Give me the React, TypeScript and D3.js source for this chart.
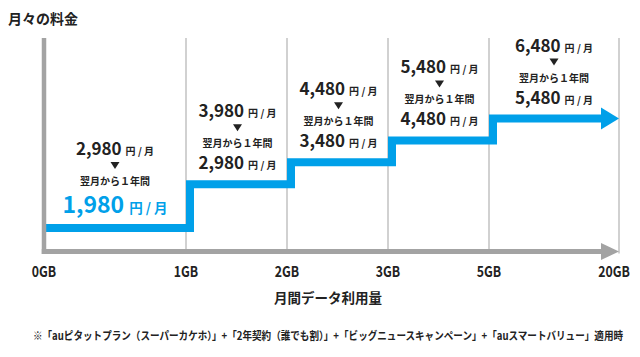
import React, { useLayoutEffect, useRef, useState } from "react";
import * as d3 from "d3";

const gbTicks = ["0GB", "1GB", "2GB", "3GB", "5GB", "20GB"];
const regularPrices = [2980, 3980, 4480, 5480, 6480];
const discountPrices = [1980, 2980, 3480, 4480, 5480];
const titleText = "月々の料金";
const axisTitle = "月間データ利用量";
const periodText = "翌月から１年間";
const unitText = "円 / 月";
const footnote =
  "※「auピタットプラン（スーパーカケホ）」+「2年契約（誰でも割）」+「ビッグニュースキャンペーン」+「auスマートバリュー」適用時";

const W = 640;
const H = 357;
const FONT = "'Noto Sans CJK JP', 'Noto Sans', sans-serif";
const BLUE = "#00a0e9";
const GRAY = "#a3a3a3";
const GRID = "#b9b9b9";

// horizontal layout: first band wider, last band wide
const bandWidths = [142, 101, 101, 101, 130];
const xRange = bandWidths.reduce((acc, w) => [...acc, acc[acc.length - 1] + w], [44]);
const x = d3.scaleLinear().domain(d3.range(gbTicks.length)).range(xRange);

// vertical: step tiers (first step is double height)
const tierOf = (i: number) => (i === 0 ? 0 : i + 1);
const y = d3.scaleLinear().domain([0, 5]).range([228, 118.5]);
const fmt = d3.format(",");

const axisY = 251.5;
const topY = 38;

export default function App() {
  const noteRef = useRef<SVGTextElement | null>(null);
  const [noteScale, setNoteScale] = useState(0.85);
  useLayoutEffect(() => {
    if (noteRef.current) {
      const len = noteRef.current.getComputedTextLength();
      if (len > 0) setNoteScale(590 / len);
    }
  }, []);

  const stepOffset = 4;
  const pts: [number, number][] = [];
  discountPrices.forEach((_, i) => {
    const yy = y(tierOf(i));
    const x0 = i === 0 ? x(0) : x(i) + stepOffset;
    const x1 = i === discountPrices.length - 1 ? x(i + 1) - 17 : x(i + 1) + stepOffset;
    pts.push([x0, yy]);
    pts.push([x1, yy]);
  });
  const line = d3.line().curve(d3.curveLinear)(pts) || "";
  const lastY = y(tierOf(discountPrices.length - 1));
  const tipX = x(gbTicks.length - 1);

  return (
    <svg width={W} height={H} style={{ display: "block", position: "absolute", left: 0, top: 0 }} fontFamily={FONT}>
      <rect width={W} height={H} fill="#fff" />
      <text x={8} y={24} fontSize={14} fontWeight={700} fill="#222">
        {titleText}
      </text>

      {/* grid lines */}
      {gbTicks.slice(1).map((t, i) => (
        <line key={t} x1={x(i + 1)} x2={x(i + 1)} y1={topY} y2={axisY + 2} stroke={GRID} strokeWidth={1.3} />
      ))}

      {/* blue step line */}
      <path d={line} fill="none" stroke={BLUE} strokeWidth={8} strokeLinejoin="miter" />
      <path d={`M${tipX - 18},${lastY - 11}L${tipX},${lastY}L${tipX - 18},${lastY + 11}Z`} fill={BLUE} />

      {/* axes */}
      <line x1={x(0)} x2={x(0)} y1={topY} y2={axisY + 2.5} stroke={GRAY} strokeWidth={4.5} />
      <line x1={x(0) - 2.25} x2={tipX - 17} y1={axisY} y2={axisY} stroke={GRAY} strokeWidth={5} />
      <path d={`M${tipX - 18},${axisY - 8.5}L${tipX},${axisY}L${tipX - 18},${axisY + 8.5}Z`} fill={GRAY} />

      {/* x tick labels (condensed look) */}
      {gbTicks.map((t, i) => (
        <text
          key={t}
          transform={`translate(${x(i) - (i === gbTicks.length - 1 ? 5 : 0)},277) scale(0.82,1)`}
          textAnchor="middle"
          fontSize={15}
          fontWeight={700}
          fill="#222"
        >
          {t}
        </text>
      ))}
      <text x={328} y={303} textAnchor="middle" fontSize={13.5} fontWeight={700} fill="#222">
        {axisTitle}
      </text>

      {/* price blocks */}
      {discountPrices.map((p, i) => {
        const cx = (x(i) + x(i + 1)) / 2 + (i > 0 && i < 4 ? 1 : 0);
        const first = i === 0;
        const f = first ? 23 : 17;
        const uf = first ? 13.5 : 10;
        const B = y(tierOf(i)) - 15;
        const mid = B - (f + 5);
        const triTop = mid - 23;
        const top = mid - 30;
        const col = first ? BLUE : "#222";
        return (
          <g key={i}>
            <text x={cx} y={top} textAnchor="middle" fontWeight={700} fill="#222">
              <tspan fontSize={17}>{fmt(regularPrices[i])}</tspan>
              <tspan fontSize={10} dx={4}>{unitText}</tspan>
            </text>
            <path d={`M${cx - 4.5},${triTop}L${cx + 4.5},${triTop}L${cx},${triTop + 7}Z`} fill="#222" />
            <text x={cx} y={mid} textAnchor="middle" fontSize={10} fontWeight={700} fill="#222">
              {periodText}
            </text>
            <text x={cx} y={B} textAnchor="middle" fontWeight={700} fill={col}>
              <tspan fontSize={f}>{fmt(p)}</tspan>
              <tspan fontSize={uf} dx={first ? 5 : 4}>{unitText}</tspan>
            </text>
          </g>
        );
      })}

      <text
        ref={noteRef}
        transform={`translate(328,340) scale(${noteScale},1)`}
        textAnchor="middle"
        fontSize={11}
        fontWeight={700}
        fill="#222"
      >
        {footnote}
      </text>
    </svg>
  );
}
